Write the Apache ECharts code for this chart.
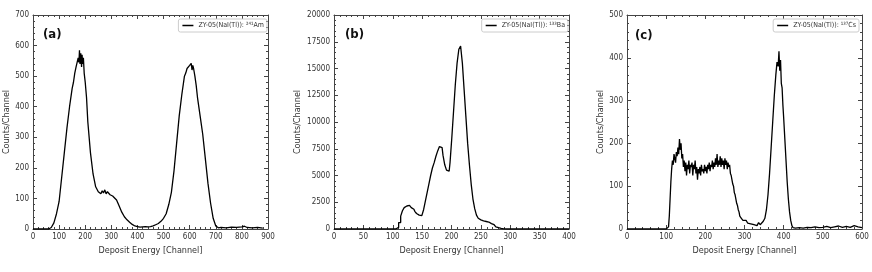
<!DOCTYPE html>
<html><head><meta charset="utf-8">
<script src="https://cdn.jsdelivr.net/npm/echarts@6/dist/echarts.min.js"></script>
<style>html,body{margin:0;padding:0;background:#fff}#c{width:872px;height:272px}</style>
</head><body><div id="c"></div>
<script>
// ---- Panel (a): 241Am ----
const amX = [0,20,40,60,70,80,90,100,110,120,130,140,150,155,160,165,170,173,176,178,180,183,186,188,190,193,196,200,205,210,220,230,240,250,255,260,265,270,275,280,285,290,295,300,305,310,320,330,340,350,360,370,380,390,400,410,420,430,440,450,460,470,480,490,500,510,520,530,540,550,560,570,580,585,590,595,600,603,606,609,612,615,620,625,630,640,650,660,670,680,690,700,710,720,740,760,780,800,810,820,840,860,880];
const amY = [0,0,0,0,5,20,50,90,170,250,330,400,460,480,510,530,525,560,545,585,540,575,530,570,540,560,510,480,430,350,250,180,138,122,118,115,125,118,128,115,122,118,112,110,108,102,95,75,55,40,30,22,15,10,8,6,7,8,7,8,10,14,18,25,35,50,80,120,190,280,370,440,500,510,525,520,535,530,542,520,535,525,500,470,430,370,310,230,150,85,35,10,4,5,4,6,5,7,9,5,4,5,3];

// ---- Panel (b): 133Ba ----
const baX = [0,20,40,60,80,100,105,108,112,115,118,121,124,127,130,133,136,139,142,145,148,151,154,157,160,163,166,169,172,175,178,181,184,187,190,193,196,199,202,205,208,211,214,217,220,223,226,229,232,235,238,241,244,247,250,253,256,259,262,265,268,271,274,277,280,283,286,289,292,300,320,340,360,380,400];
const baY = [0,0,0,0,0,0,0,150,600,1200,1700,2000,2150,2200,2100,2000,1850,1650,1450,1300,1250,1400,1800,2600,3400,4200,5000,5700,6200,6800,7300,7700,7600,6900,6000,5500,5400,6200,8500,11000,13500,15500,16800,17100,15500,13000,10500,8000,6000,4200,2800,1900,1300,1000,850,750,700,700,650,600,500,400,300,200,120,60,30,10,0,0,0,0,0,0,0];

// ---- Panel (c): 137Cs ----
const csX = [0,20,40,60,80,100,104,106,108,110,112,114,116,118,120,122,124,126,128,130,132,134,136,138,140,142,144,146,148,150,152,154,156,158,160,162,164,166,168,170,172,174,176,178,180,182,184,186,188,190,192,194,196,198,200,202,204,206,208,210,212,214,216,218,220,222,224,226,228,230,232,234,236,238,240,242,244,246,248,250,252,254,256,258,260,262,264,266,268,270,272,274,276,278,280,282,284,286,288,290,292,294,296,298,300,304,308,312,316,320,324,328,332,336,340,344,348,352,356,360,364,368,372,376,380,383,386,388,390,392,394,396,398,400,403,406,409,412,415,418,421,424,430,440,450,460,470,480,490,500,510,520,530,540,550,560,570,580,590,600];
const csY = [0,0,0,0,0,0,0,5,30,70,110,140,160,150,175,165,155,180,170,190,175,210,185,200,165,175,145,160,135,155,125,150,140,160,130,150,145,155,125,150,140,160,130,145,115,140,130,145,125,150,135,140,130,150,135,145,130,150,140,155,135,150,145,160,140,155,145,165,150,175,145,160,150,170,145,165,150,160,140,165,150,160,140,155,145,150,130,125,115,105,100,85,80,70,60,55,45,40,30,32,25,28,20,22,18,20,14,16,12,15,10,12,8,15,10,8,18,25,45,80,130,190,250,310,360,390,380,415,370,395,340,330,290,260,210,160,110,70,40,20,8,3,2,3,2,4,3,5,3,4,6,3,5,7,4,6,4,8,5,3];

const names = ['ZY-05(NaI(Tl)): ²⁴¹Am','ZY-05(NaI(Tl)): ¹³³Ba','ZY-05(NaI(Tl)): ¹³⁷Cs'];
const panelLabels = ['(a)','(b)','(c)'];
const xMax = [900,400,600], xInt = [100,50,100];
const yMax = [700,20000,500], yInt = [100,2500,100];

const FONT = '"Liberation Sans Narrow","DejaVu Sans Condensed","Liberation Sans",sans-serif';
const grids = [
  {left:33, top:15, width:235, height:214},
  {left:334, top:15, width:235, height:214},
  {left:627, top:15, width:235, height:214}
];
const yGap = [20, 32, 22];
const legendRight = [605, 304, 13];
const labelPos = [[43,28],[345,28],[635,29]];

const xAxis = [], yAxis = [], series = [], legend = [], graphic = [];
const axisCol = '#444', txtCol = '#333';
const datasets = [[amX,amY],[baX,baY],[csX,csY]];
function mk(){
  return {
    axisLine:{show:true, onZero:false, lineStyle:{color:axisCol, width:1}},
    axisTick:{show:true, inside:true, length:4, lineStyle:{color:axisCol}},
    minorTick:{show:true, splitNumber:5, length:2, lineStyle:{color:axisCol}},
    splitLine:{show:false}
  };
}
for (let i=0;i<3;i++){
  xAxis.push(Object.assign(mk(), {
    type:'value', gridIndex:i, min:0, max:xMax[i], interval:xInt[i], position:'bottom',
    name:'Deposit Energy [Channel]', nameLocation:'middle', nameGap:17,
    nameTextStyle:{fontFamily:FONT, fontSize:9, color:txtCol},
    axisLabel:{fontFamily:FONT, fontSize:8, color:txtCol, margin:4, formatter:v=>String(v)}
  }));
  xAxis.push(Object.assign(mk(), {
    type:'value', gridIndex:i, min:0, max:xMax[i], interval:xInt[i], position:'top',
    axisLabel:{show:false}
  }));
  yAxis.push(Object.assign(mk(), {
    type:'value', gridIndex:i, min:0, max:yMax[i], interval:yInt[i], position:'left',
    name:'Counts/Channel', nameLocation:'middle', nameGap:yGap[i],
    nameTextStyle:{fontFamily:FONT, fontSize:9, color:txtCol},
    axisLabel:{fontFamily:FONT, fontSize:8, color:txtCol, margin:4, formatter:v=>String(v)}
  }));
  yAxis.push(Object.assign(mk(), {
    type:'value', gridIndex:i, min:0, max:yMax[i], interval:yInt[i], position:'right',
    axisLabel:{show:false}
  }));
  const [xs, ys] = datasets[i];
  series.push({
    type:'line', name:names[i], xAxisIndex:2*i, yAxisIndex:2*i,
    data: xs.map((x,k)=>[x, ys[k]]),
    step: i===1 ? 'middle' : false,
    showSymbol:false, symbol:'none',
    lineStyle:{color:'#000', width:1.3}, itemStyle:{color:'#000'},
    animation:false
  });
  legend.push({
    data:[names[i]], right:legendRight[i], top:19,
    orient:'horizontal', icon:'rect', itemWidth:11, itemHeight:1.5, itemGap:4,
    padding:[3,3,3,4], borderColor:'#ccc', borderWidth:1, borderRadius:2,
    textStyle:{fontFamily:FONT, fontSize:7, color:txtCol}
  });
  graphic.push({type:'text', left:labelPos[i][0], top:labelPos[i][1],
    style:{text:panelLabels[i], font:'bold 13px "Liberation Sans Narrow","DejaVu Sans Condensed",sans-serif', fill:'#111'}});
}

const chart = echarts.init(document.getElementById('c'), null, {renderer:'canvas'});
chart.setOption({animation:false, grid:grids, xAxis, yAxis, series, legend, graphic});
</script>
</body></html>
